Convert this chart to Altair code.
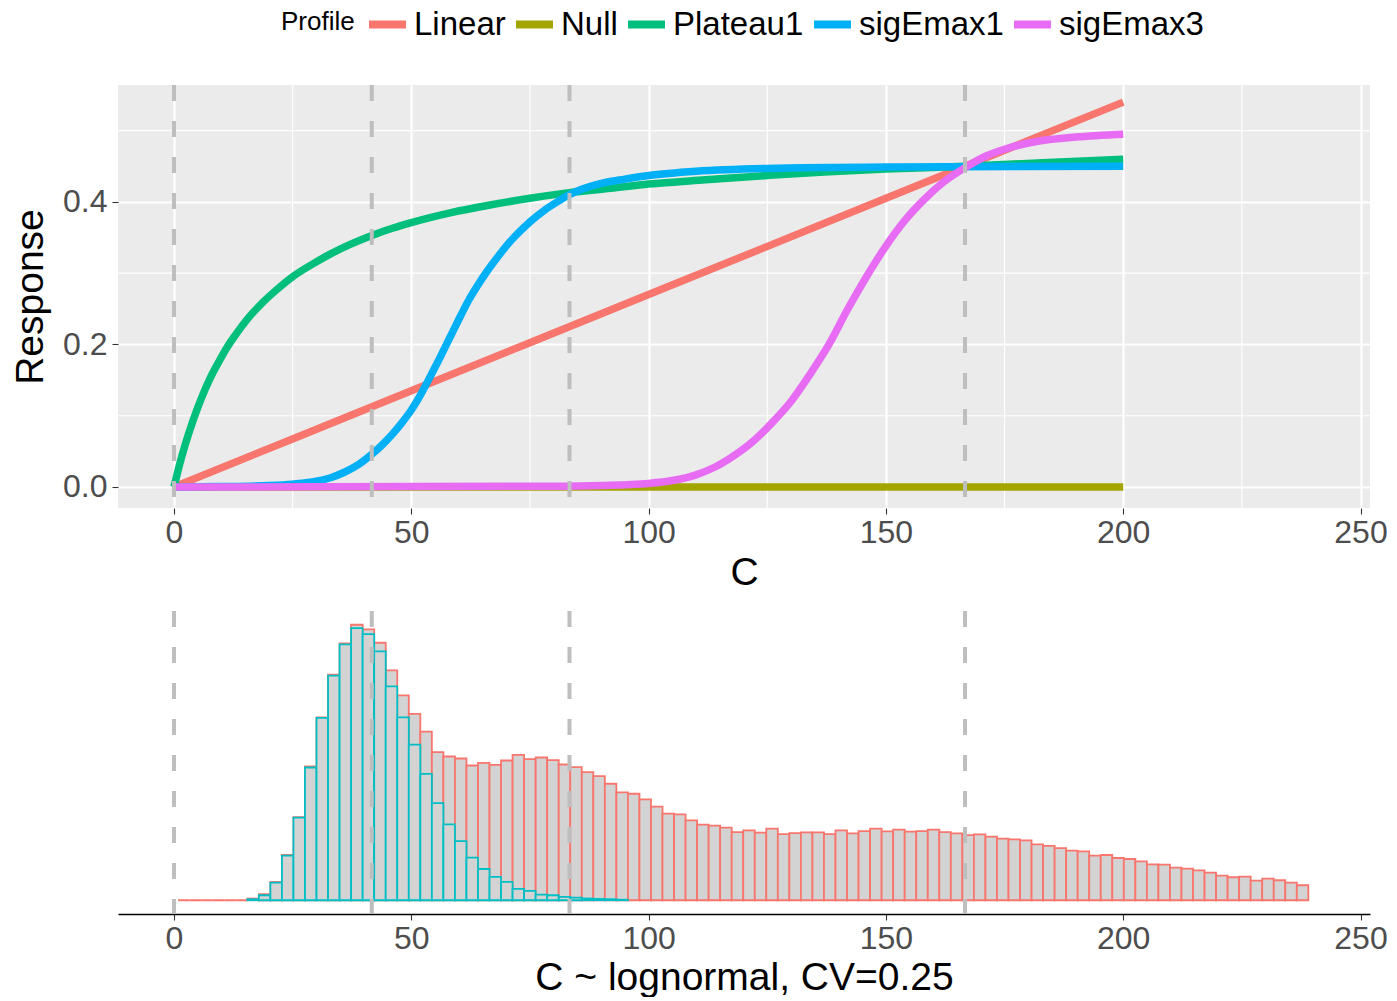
import altair as alt
import pandas as pd

# ---------------- data ----------------
profiles = ["Linear", "Null", "Plateau1", "sigEmax1", "sigEmax3"]
profile_colors = ["#F8766D", "#A3A500", "#00BF7D", "#00B0F6", "#E76BF3"]

linear_x = [0, 50, 100, 150, 200]
linear_y = [0.0, 0.135, 0.27, 0.405, 0.54]

null_x = [0, 100, 200]
null_y = [0.0, 0.0, 0.0]

plateau_x = [0, 1, 2.25, 4, 5.8, 7.5, 9.3, 11, 12.8, 15.5, 18.4, 21.5, 25, 29, 33, 37, 41.7, 46,
             50, 58.4, 66, 75, 83.3, 92, 100, 112, 125, 137, 150, 166.7, 183, 200]
plateau_y = [0.0, 0.027, 0.057, 0.093, 0.125, 0.151, 0.174, 0.194, 0.212, 0.236, 0.257, 0.276,
             0.295, 0.312, 0.327, 0.340, 0.353, 0.363, 0.371, 0.385, 0.395, 0.405, 0.413, 0.419,
             0.425, 0.431, 0.437, 0.442, 0.446, 0.45, 0.455, 0.46]

sig1_x = [0, 10, 20, 25, 30, 33, 36, 39, 41.7, 44, 46, 48, 50, 52, 54, 56, 58, 60, 62, 64, 66,
          68, 70, 72.5, 75, 78, 81, 83.3, 86, 90, 95, 100, 110, 125, 150, 200]
sig1_y = [0.0, 0.0005, 0.002, 0.004, 0.008, 0.013, 0.021, 0.032, 0.046, 0.06, 0.074, 0.09, 0.108,
          0.13, 0.155, 0.181, 0.208, 0.235, 0.261, 0.283, 0.303, 0.321, 0.338, 0.356, 0.372,
          0.388, 0.401, 0.41, 0.418, 0.426, 0.432, 0.437, 0.443, 0.447, 0.449, 0.45]

sig3_x = [0, 80, 90, 100, 105, 110, 114, 118, 122, 126, 130, 134, 138, 142, 146, 150, 154, 158,
          162, 166.7, 171, 176, 182, 190, 200]
sig3_y = [0.0, 0.001, 0.002, 0.005, 0.009, 0.017, 0.028, 0.044, 0.064, 0.09, 0.12, 0.158, 0.2,
          0.25, 0.296, 0.338, 0.374, 0.403, 0.427, 0.448, 0.464, 0.476, 0.485, 0.491, 0.495]

ref_lines = [0, 41.67, 83.33, 166.67]
x_major = [0, 50, 100, 150, 200, 250]
x_minor = [25, 75, 125, 175, 225]
y_major = [0.0, 0.2, 0.4]
y_minor = [0.1, 0.3, 0.5]

# histogram (C ~ lognormal, CV=0.25): common bin grid
bin_start = 0.87
bin_width = 2.43
red_counts = [0, 0, 0, 0, 0, 0,
              1.7, 6, 18.3, 45.3, 83.3, 134, 183.3, 226, 257.3, 276, 271.3, 258, 230.3, 205.3,
              186.7, 169, 148.3, 144, 142, 135, 137.7, 135.7, 140, 145.7, 141.3, 143, 140.3, 136,
              133.3, 128.3, 124.3, 116.7,
              108, 106.7, 101, 93.7, 86.7, 86, 80, 75.7, 74.7, 72.7, 68.3, 70, 67.7, 71.7, 66.3,
              67.3, 68, 68, 66.3, 70, 67, 69.3, 71.7, 69, 70.7, 68.7, 69.3, 70.7, 68.3, 67, 65.3,
              66, 63.7, 61.7, 61, 60, 56, 54.5,
              52.3, 49.7, 49, 44.7, 45.3, 42.3, 41.3, 39, 36, 35.7, 32.7, 31.7, 30, 27.7, 24.7,
              23, 23.7, 19.7, 21.7, 20, 17.7, 15]
teal_first_bin = 6
teal_counts = [1, 5, 17.7, 44.7, 82.7, 133, 182.7, 225, 256.3, 272.7, 266.7, 249.3, 214.3, 183.3,
               156, 126.7, 97.3, 76, 59.3, 42.7, 31.3, 23.3, 18.3, 11.3, 9.3, 5.7, 5, 3.3, 2.7,
               1.7, 1.3, 1.0, 0.5]

# ---------------- tables ----------------
rows = []
for name, xs_, ys_ in zip(profiles,
                          [linear_x, null_x, plateau_x, sig1_x, sig3_x],
                          [linear_y, null_y, plateau_y, sig1_y, sig3_y]):
    for a, b in zip(xs_, ys_):
        rows.append({"Profile": name, "C": a, "Response": b})
curve_df = pd.DataFrame(rows)


def hist_df(counts, first):
    return pd.DataFrame({
        "C": [bin_start + (first + i) * bin_width for i in range(len(counts))],
        "C2": [bin_start + (first + i + 1) * bin_width for i in range(len(counts))],
        "count": counts,
    })


red_df = hist_df(red_counts, 0)
teal_df = hist_df(teal_counts, teal_first_bin)
ref_df = pd.DataFrame({"C": ref_lines})
vminor_df = pd.DataFrame({"C": x_minor})
hminor_df = pd.DataFrame({"Response": y_minor})

# ---------------- scales / axes ----------------
FONT = "Liberation Sans"
x_scale = alt.Scale(domain=[-11.8, 252], nice=False, zero=False)
y_scale = alt.Scale(domain=[-0.0295, 0.564], nice=False, zero=False)
h_scale = alt.Scale(domain=[-13.8, 289.8], nice=False, zero=False)

top_x_axis = alt.Axis(values=x_major, grid=True, gridColor="white", gridWidth=2.2, domain=False,
                      tickColor="#333333", tickSize=6, tickWidth=1.1, labelFontSize=32,
                      labelColor="#4D4D4D", labelPadding=3, titleFontSize=39,
                      titleFontWeight="normal", titleColor="black", titlePadding=5,
                      labelFont=FONT, titleFont=FONT)
top_y_axis = alt.Axis(values=y_major, grid=True, gridColor="white", gridWidth=2.2, domain=False,
                      tickColor="#333333", tickSize=6, tickWidth=1.1, labelFontSize=32,
                      labelColor="#4D4D4D", labelPadding=5, titleFontSize=39,
                      titleFontWeight="normal", titleColor="black", titlePadding=12,
                      format=".1f", labelFont=FONT, titleFont=FONT)
bot_x_axis = alt.Axis(values=x_major, grid=False, domain=True, domainColor="black",
                      domainWidth=1.6, tickColor="#333333", tickSize=6, tickWidth=1.1,
                      labelFontSize=32, labelColor="#4D4D4D", labelPadding=3, titleFontSize=39,
                      titleFontWeight="normal", titleColor="black", titlePadding=4,
                      labelFont=FONT, titleFont=FONT)

# ---------------- top panel ----------------
vminor = alt.Chart(vminor_df).mark_rule(color="white", strokeWidth=1.1).encode(
    x=alt.X("C:Q", scale=x_scale, axis=top_x_axis, title="C"))
hminor = alt.Chart(hminor_df).mark_rule(color="white", strokeWidth=1.1).encode(
    y=alt.Y("Response:Q", scale=y_scale, axis=top_y_axis, title="Response"))

curves = alt.Chart(curve_df).mark_line(strokeWidth=7.5, strokeCap="butt",
                                       interpolate="monotone").encode(
    x=alt.X("C:Q", scale=x_scale, axis=top_x_axis, title="C"),
    y=alt.Y("Response:Q", scale=y_scale, axis=top_y_axis, title="Response"),
    color=alt.Color("Profile:N",
                    scale=alt.Scale(domain=profiles, range=profile_colors),
                    legend=alt.Legend(orient="none", legendX=163, legendY=-83,
                                      direction="horizontal", titleOrient="left",
                                      titleAnchor="middle", titleBaseline="middle",
                                      title="Profile", titleFontSize=26,
                                      titleFontWeight="normal", titleColor="black",
                                      titleFont=FONT, labelFont=FONT,
                                      labelFontSize=33, labelColor="black",
                                      symbolType="stroke", symbolStrokeWidth=8,
                                      symbolSize=1369, labelOffset=4, columnPadding=-6,
                                      titlePadding=10, gridAlign="none")),
)

top_refs = alt.Chart(ref_df).mark_rule(color="#BEBEBE", strokeWidth=4,
                                       strokeDash=[16, 20]).encode(
    x=alt.X("C:Q", scale=x_scale))

top = alt.layer(vminor, hminor, curves, top_refs).properties(
    width=1252, height=423,
    view=alt.ViewBackground(fill="#EBEBEB", strokeWidth=0))

# ---------------- bottom panel ----------------
red_bars = alt.Chart(red_df).mark_rect(fill="#D3D3D3", stroke="#F8766D", strokeWidth=1.8).encode(
    x=alt.X("C:Q", scale=x_scale, axis=bot_x_axis, title="C ~ lognormal, CV=0.25"),
    x2="C2:Q",
    y=alt.Y("count:Q", scale=h_scale, axis=None),
    y2=alt.datum(0),
)
teal_bars = alt.Chart(teal_df).mark_rect(fill="#D3D3D3", stroke="#00BFC4", strokeWidth=1.8).encode(
    x=alt.X("C:Q", scale=x_scale, axis=bot_x_axis, title="C ~ lognormal, CV=0.25"),
    x2="C2:Q",
    y=alt.Y("count:Q", scale=h_scale, axis=None),
    y2=alt.datum(0),
)
bot_refs = alt.Chart(ref_df).mark_rule(color="#BEBEBE", strokeWidth=4,
                                       strokeDash=[16, 20]).encode(
    x=alt.X("C:Q", scale=x_scale))

bottom = alt.layer(red_bars, teal_bars, bot_refs).properties(
    width=1252, height=303,
    view=alt.ViewBackground(strokeWidth=0))

chart = alt.vconcat(top, bottom, spacing=103, bounds="flush").properties(
    padding={"left": 11, "top": 2, "right": 0, "bottom": 0},
    background="white",
).configure(font=FONT)

chart.save("out.html", embed_options={"renderer": "svg", "actions": False})
